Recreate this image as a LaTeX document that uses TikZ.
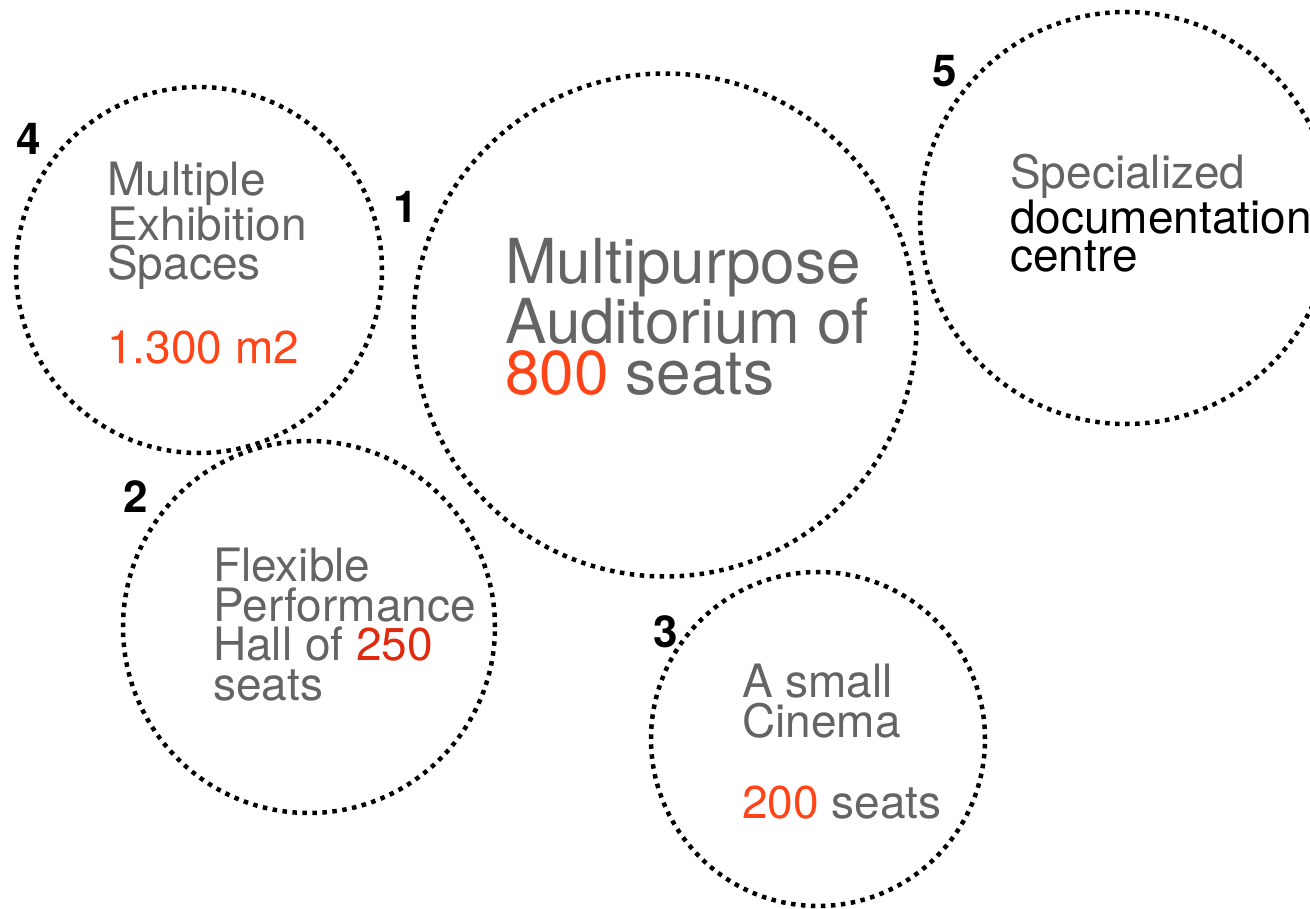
\documentclass[tikz,border=0pt]{standalone}
\usepackage{fontspec}
\setmainfont{TeX Gyre Heros}
\definecolor{txtgray}{HTML}{646464}
\definecolor{hot}{HTML}{FF4517}
\definecolor{hotdark}{HTML}{E0290D}

\begin{document}
\begin{tikzpicture}[x=1pt,y=-1pt,
  zone/.style={circle, draw, line width=4.5pt, dash pattern=on 4.5pt off 5.5pt, inner sep=0pt},
  tag/.style={font=\fontsize{44}{44}\selectfont\bfseries, inner sep=0pt, anchor=base west},
  small/.style={font=\fontsize{46}{39.5}\selectfont, text=txtgray, align=left, inner sep=0pt, anchor=base west},
  big/.style={font=\fontsize{62}{51.5}\selectfont, text=txtgray, align=left, inner sep=0pt, anchor=base west}]
	\useasboundingbox (0,0) rectangle (1310,909);
	% the five rooms
	\node (aud) [zone, minimum size=503pt] at (665,325) {};
	\node (expo) [zone, minimum size=366pt] at (199,270) {};
	\node (doc) [zone, minimum size=412pt] at (1126,218) {};
	\node (hall) [zone, minimum size=372pt] at (309,627) {};
	\node (cine) [zone, minimum size=334pt] at (818,739) {};
	% numbers
	\node (n1) [tag] at (393,223) {1};
	\node (n2) [tag] at (123,512) {2};
	\node (n3) [tag] at (653,647) {3};
	\node (n4) [tag] at (16,155) {4};
	\node (n5) [tag] at (932,87) {5};
	% texts (anchored on the last line)
	\node (audtxt) [big] at (505,395) {Multipurpose\\Auditorium of\\\textcolor{hot}{800} seats};
	\node (expotxt) [small] at (107,280) {Multiple\\Exhibition\\Spaces};
	\node (expoarea) [small, text=hot] at (107,363) {1.300 m2};
	\node (doctxt) [small, font=\fontsize{46}{38.5}\selectfont] at (1010,272) {Specialized\\\textcolor{black}{documentation}\\\textcolor{black}{centre}};
	\node (halltxt) [small] at (213,700) {Flexible\\Performance\\Hall of \textcolor{hotdark}{250}\\seats};
	\node (cinetxt) [small] at (742,737) {A small\\Cinema};
	\node (cineseats) [small] at (742,818) {\textcolor{hot}{200} seats};
\end{tikzpicture}
\end{document}
